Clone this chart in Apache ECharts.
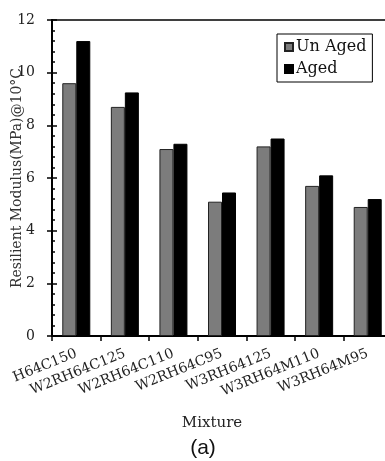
<!DOCTYPE html>
<html>
<head>
<meta charset="utf-8">
<script src="https://cdn.jsdelivr.net/npm/echarts@6/dist/echarts.min.js"></script>
<style>
html,body{margin:0;padding:0;background:#fff;}
#chart{width:385px;height:461px;}
</style>
</head>
<body>
<div id="chart"></div>
<script>
var categories = ['H64C150','W2RH64C125','W2RH64C110','W2RH64C95','W3RH64125','W3RH64M110','W3RH64M95'];
var unAged = [9.6, 8.7, 7.1, 5.1, 7.2, 5.7, 4.9];
var aged = [11.2, 9.25, 7.3, 5.45, 7.5, 6.1, 5.2];
var yTicks = [0, 2, 4, 6, 8, 10, 12];

var serif = 'DejaVu Serif';
var chart = echarts.init(document.getElementById('chart'));
chart.setOption({
  animation: false,
  backgroundColor: '#fff',
  title: {
    text: '(a)',
    left: 198,
    top: 433,
    textAlign: 'center',
    textStyle: {fontFamily: 'Liberation Sans', fontSize: 21, fontWeight: 'normal', color: '#111'}
  },
  grid: {
    left: 52, top: 20, width: 340, bottom: 125,
    containLabel: false,
    outerBoundsMode: 'none',
    show: true, borderColor: '#000', borderWidth: 1.5, backgroundColor: 'transparent'
  },
  legend: {
    orient: 'vertical',
    left: 277, top: 34,
    padding: [5, 6, 5, 7],
    itemGap: 6,
    itemWidth: 8, itemHeight: 8,
    borderColor: '#000', borderWidth: 1,
    icon: 'rect',
    textStyle: {fontFamily: serif, fontSize: 16, color: '#111', padding: [0, 0, 0, -2]},
    data: ['Un Aged', 'Aged']
  },
  xAxis: {
    type: 'category',
    data: categories,
    name: 'Mixture',
    nameLocation: 'middle',
    nameGap: 80,
    nameMoveOverlap: false,
    nameTextStyle: {fontFamily: serif, fontSize: 15, color: '#222', padding: [0, 20, 0, 0]},
    axisLine: {lineStyle: {color: '#000', width: 2}},
    axisTick: {show: true, length: 5, lineStyle: {color: '#000', width: 1.5}},
    axisLabel: {rotate: 22, margin: 17, fontFamily: serif, fontSize: 14, color: '#222', interval: 0}
  },
  yAxis: [{
    type: 'value',
    min: yTicks[0], max: yTicks[yTicks.length - 1], interval: 2,
    name: 'Resilient Modulus(MPa)@10\u00b0C',
    nameLocation: 'middle',
    nameGap: 28,
    nameMoveOverlap: false,
    nameTextStyle: {fontFamily: serif, fontSize: 14, color: '#333'},
    axisLine: {show: true, lineStyle: {color: '#000', width: 2}},
    axisTick: {show: true, length: 5, lineStyle: {color: '#000', width: 1.5}},
    axisLabel: {margin: 17, fontFamily: serif, fontSize: 14, color: '#222'},
    splitLine: {show: false}
  }, {
    type: 'value',
    position: 'left',
    min: yTicks[0], max: yTicks[yTicks.length - 1], interval: 2,
    axisLine: {show: false},
    axisTick: {show: true, inside: true, length: 5, lineStyle: {color: '#000', width: 1.5}},
    minorTick: {show: true, splitNumber: 5, length: 3, lineStyle: {color: '#000', width: 1.5}},
    axisLabel: {show: false},
    splitLine: {show: false}
  }],
  series: [{
    name: 'Un Aged',
    type: 'bar',
    data: unAged,
    barWidth: 14,
    barGap: '0%',
    itemStyle: {color: '#7c7c7c', borderColor: '#222', borderWidth: 1}
  }, {
    name: 'Aged',
    type: 'bar',
    data: aged,
    barWidth: 14,
    barGap: '0%',
    itemStyle: {color: '#000', borderColor: '#000', borderWidth: 1}
  }]
});
</script>
</body>
</html>
